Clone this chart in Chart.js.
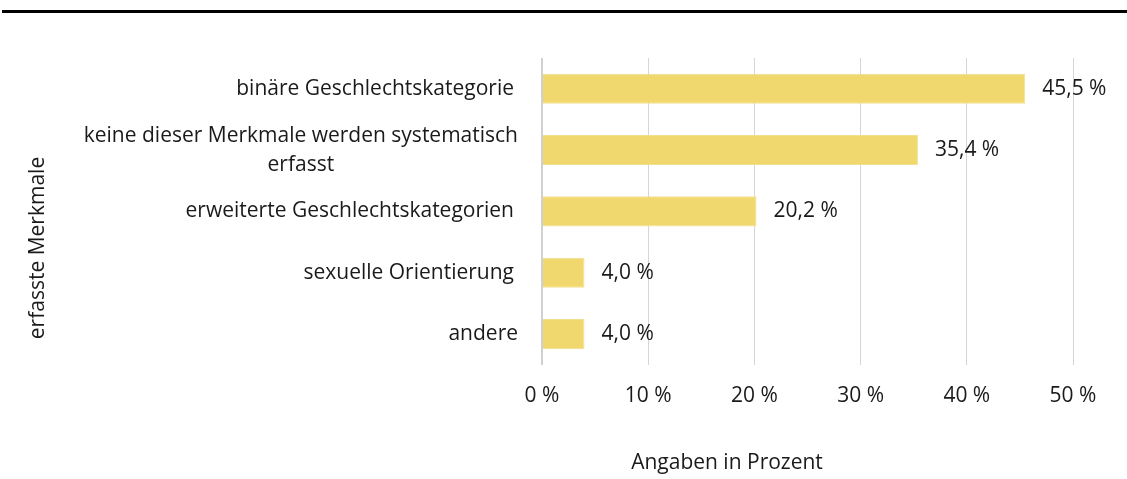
<!DOCTYPE html>
<html>
<head>
<meta charset="utf-8">
<script src="https://cdn.jsdelivr.net/npm/chart.js@4"></script>
<style>
  html, body { margin: 0; padding: 0; background: #fff; }
  #wrap { width: 1127px; height: 479px; position: relative; }
</style>
</head>
<body>
<div id="wrap"><canvas id="chart" width="1127" height="479"></canvas></div>
<script>
// data
const categories = [
  ["binäre Geschlechtskategorie"],
  ["keine dieser Merkmale werden systematisch", "erfasst"],
  ["erweiterte Geschlechtskategorien"],
  ["sexuelle Orientierung"],
  ["andere"]
]
const values = [45.5, 35.4, 20.2, 4.0, 4.0]
const xTicks = [0, 10, 20, 30, 40, 50]
const xTitle = "Angaben in Prozent"
const yTitle = "erfasste Merkmale"

const FONT = "'Open Sans', 'Noto Sans', sans-serif"
const FS = 21
const TEXT = "#1a1a1a"
const BAR = "#F0D86E"

function fmt(v) { return v.toFixed(1).replace(".", ",") + " %" }

// draws top rule, y labels, value labels, axis titles
const extras = {
  id: "extras",
  afterDraw(chart) {
    const ctx = chart.ctx
    const y = chart.scales.y
    const x = chart.scales.x
    ctx.save()
    ctx.fillStyle = "#000"
    ctx.fillRect(2, 10, 1125, 3)

    ctx.font = FS + "px " + FONT
    ctx.fillStyle = TEXT
    ctx.textBaseline = "middle"

    // category labels: lines centred on each other, block right aligned
    categories.forEach((lines, i) => {
      const cy = y.getPixelForValue(i)
      const w = Math.max(...lines.map(l => ctx.measureText(l).width))
      const right = lines.length > 1 || i === categories.length - 1 ? 518 : 514
      const lh = 29
      lines.forEach((l, j) => {
        ctx.textAlign = "center"
        ctx.fillText(l, right - w / 2, cy + (j - (lines.length - 1) / 2) * lh)
      })
    })

    // value labels
    ctx.textAlign = "left"
    values.forEach((v, i) => {
      ctx.fillText(fmt(v), x.getPixelForValue(v) + 17, y.getPixelForValue(i))
    })

    // axis titles
    ctx.textAlign = "center"
    ctx.fillText(xTitle, 727, 463)
    ctx.translate(38, 248)
    ctx.rotate(-Math.PI / 2)
    ctx.fillText(yTitle, 0, 0)
    ctx.restore()
  }
}

new Chart(document.getElementById("chart"), {
  type: "bar",
  data: {
    labels: categories.map(c => c.join(" ")),
    datasets: [{
      data: values,
      backgroundColor: BAR,
      borderColor: "#F3E08F",
      borderWidth: 1,
      barPercentage: 0.98,
      categoryPercentage: 0.5
    }]
  },
  options: {
    indexAxis: "y",
    responsive: false,
    animation: false,
    layout: { padding: { left: 534, right: 54, top: 58, bottom: 51 } },
    plugins: { legend: { display: false }, tooltip: { enabled: false } },
    scales: {
      x: {
        min: 0, max: 50,
        afterBuildTicks(s) { s.ticks = xTicks.map(v => ({ value: v })) },
        grid: {
          color: c => c.tick && c.tick.value === 0 ? "#d0d0d0" : "#d6d6d6",
          lineWidth: c => c.tick && c.tick.value === 0 ? 2 : 1,
          drawTicks: false
        },
        border: { display: false },
        ticks: {
          padding: 19,
          color: TEXT,
          font: { family: FONT, size: FS },
          callback: v => v + " %"
        }
      },
      y: {
        grid: { display: false },
        border: { display: false },
        ticks: { display: false }
      }
    }
  },
  plugins: [extras]
})
</script>
</body>
</html>
